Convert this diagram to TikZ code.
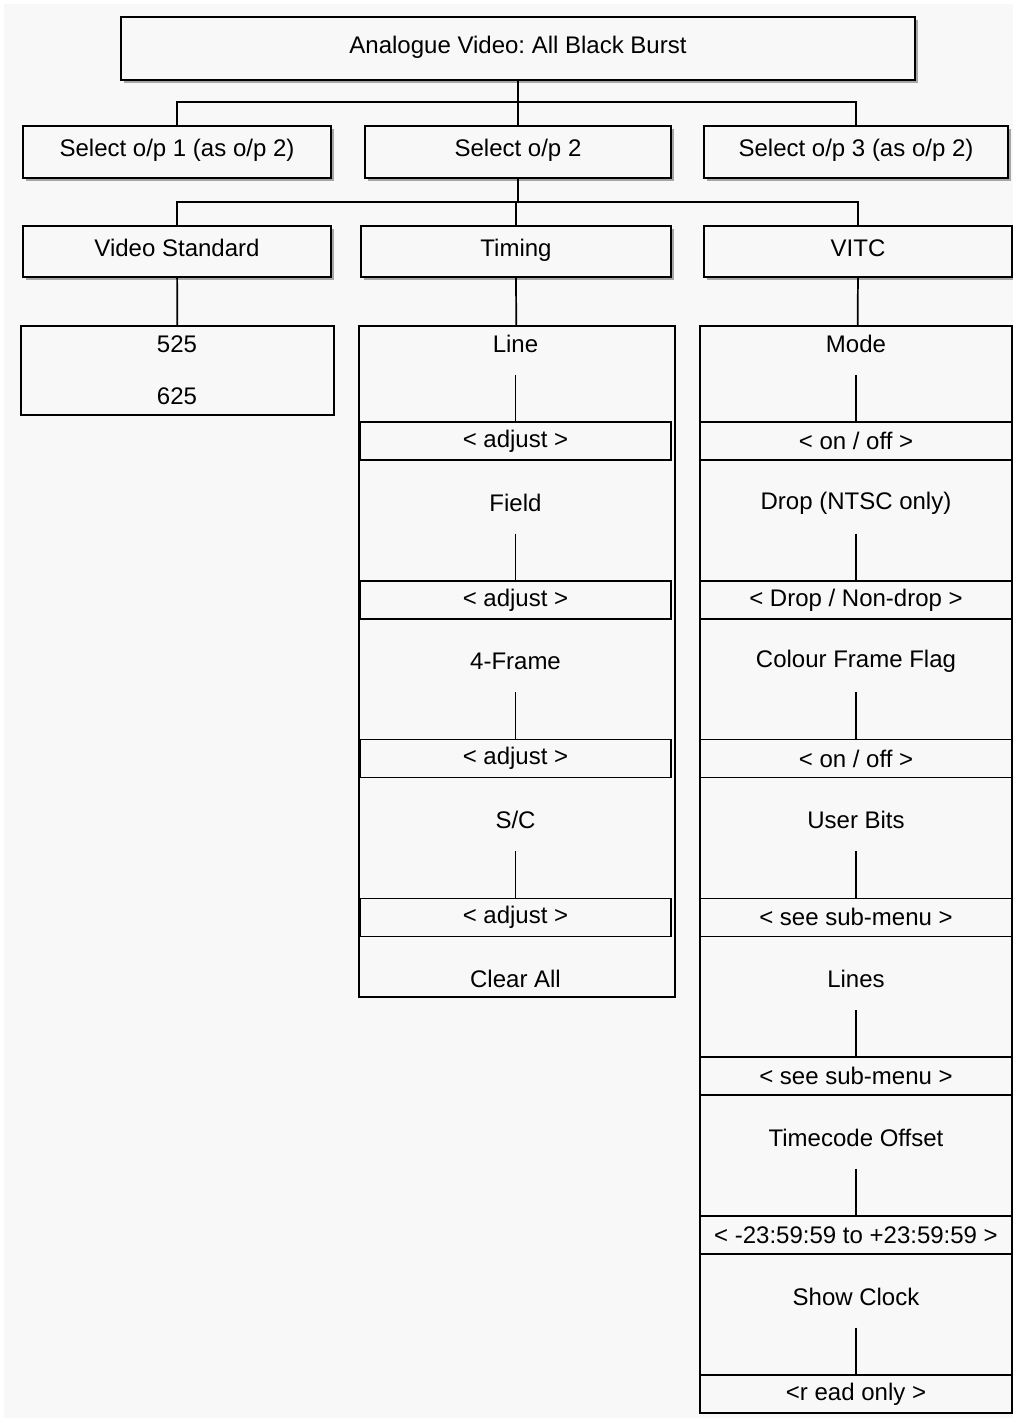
\documentclass[tikz,border=0pt]{standalone}
\usepackage{fontspec}
\setmainfont{Liberation Sans}
\usepackage{tikz}
\usetikzlibrary{positioning, shadows, calc}
\definecolor{paper}{RGB}{248,248,248}
\frenchspacing

\begin{document}
\begin{tikzpicture}[x=0.75pt, y=-0.75pt, line width=1.3pt,
    font=\fontsize{18}{21}\selectfont,
    menubox/.style={draw, fill=paper, inner sep=0pt, text height=12pt, text depth=5pt,
      drop shadow={shadow xshift=2.25pt, shadow yshift=-2.25pt, fill=gray!70, opacity=1}},
    listbox/.style={draw, inner sep=0pt},
    valbox/.style={draw, fill=paper, inner sep=0pt, minimum height=28.5pt},
    item/.style={inner sep=0pt, minimum height=45pt}]
  \useasboundingbox (0,0) rectangle (1013,1418);
  \fill[paper] (4,4) rectangle (1013,1418);

  % Top menu
  \node[menubox, minimum width=595.5pt, minimum height=47.25pt] (top) at (518,48.5)
      {Analogue Video: All Black Burst};

  % Outputs
  \node[menubox, minimum width=231pt, minimum height=39pt] (sel1) at (177,152) {Select o/p 1 (as o/p 2)};
  \node[menubox, minimum width=229.5pt, minimum height=39pt] (sel2) at (518,152) {Select o/p 2};
  \node[menubox, minimum width=228pt, minimum height=39pt] (sel3) at (856,152) {Select o/p 3 (as o/p 2)};

  % Sub-menus of o/p 2
  \node[menubox, minimum width=231pt, minimum height=38.25pt] (vstd) at (177,251.5) {Video Standard};
  \node[menubox, minimum width=232.5pt, minimum height=38.25pt] (timing) at (516,251.5) {Timing};
  \node[menubox, minimum width=231pt, minimum height=38.25pt] (vitc) at (858,251.5) {VITC};

  % Lists
  \node[listbox, minimum width=234.75pt, minimum height=66.75pt] (stdlist) at (177.5,370.5) {};
  \node (std525) at (177,344) {525};
  \node (std625) at (177,396) {625};

  \node[listbox, minimum width=237pt, minimum height=503.25pt] (timlist) at (517,661.5) {};
  \foreach \lbl [count=\i from 0] in {Line, Field, 4-Frame, S/C} {
    \node[item] (tim\i) at (515.5,{344+158.8*\i}) {\lbl};
    \node[valbox, minimum width=233.25pt] (timv\i) at (515.5,{441+158.8*\i}) {< adjust >};
    \draw (tim\i) -- (timv\i);
  }
  \node[item] (timclear) at (515.5,979.2) {Clear All};

  \node[listbox, minimum width=234pt, minimum height=815.25pt] (vitclist) at (856,869.5) {};
  \foreach \lbl/\val [count=\i from 0] in {Mode/{< on / off >},
      Drop (NTSC only)/{< Drop / Non-drop >},
      Colour Frame Flag/{< on / off >},
      User Bits/{< see sub-menu >},
      Lines/{< see sub-menu >},
      Timecode Offset/{< -23:59:59 to +23:59:59 >},
      Show Clock/{<r ead only >}} {
    \node[item] (vitc\i) at (856,{344+158.8*\i}) {\lbl};
    \node[valbox, minimum width=234pt] (vitcv\i) at (856,{441+158.8*\i}) {\val};
    \draw (vitc\i) -- (vitcv\i);
  }

  % Tree lines
  \coordinate (bar1) at (518,102);
  \coordinate (bar2) at (518,202);
  \draw (top) -- (sel2);
  \draw (sel1.north) |- (bar1) -| (sel3.north);
  \draw (sel2) -- (bar2);
  \draw (vstd.north) |- (bar2) -| (vitc.north);
  \draw (timing.north) -- (timing.north |- bar2);
  \draw (vstd) -- (stdlist);
  \draw (timing) -- (timlist);
  \draw (vitc) -- (vitclist);
\end{tikzpicture}
\end{document}
